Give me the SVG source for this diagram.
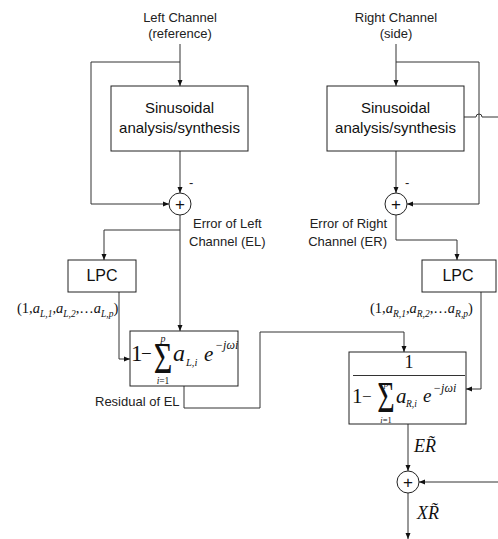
<svg xmlns="http://www.w3.org/2000/svg" width="498" height="539" viewBox="0 0 498 539">
<style>
.box{fill:#fff;stroke:#222;stroke-width:1}
.ln{fill:none;stroke:#333;stroke-width:1}
.lbl{font-family:"Liberation Sans",Arial,sans-serif;font-size:13px;fill:#222}
.bt{font-family:"Liberation Sans",Arial,sans-serif;font-size:15px;fill:#111;text-anchor:middle}
.m{font-family:"Liberation Serif","Times New Roman",serif;fill:#111}
.i{font-style:italic}
.c{text-anchor:middle}
</style>
<defs>
<marker id="ah" viewBox="0 0 6 6" refX="6" refY="3" markerWidth="6" markerHeight="6" orient="auto" markerUnits="userSpaceOnUse">
<path d="M0,0.5 L6,3 L0,5.5 z" fill="#111"/>
</marker>
</defs>
<rect width="498" height="539" fill="#fff"/>

<g id="connectors">
<path class="ln" d="M180,44 V86" marker-end="url(#ah)"/>
<path class="ln" d="M180,62 H91 V204 H169" marker-end="url(#ah)"/>
<path class="ln" d="M180,151 V193" marker-end="url(#ah)"/>
<path class="ln" d="M180,215 V331" marker-end="url(#ah)"/>
<path class="ln" d="M180,230 H104 V260" marker-end="url(#ah)"/>
<path class="ln" d="M119,292 V359 H130" marker-end="url(#ah)"/>
<path class="ln" d="M184,386 V408 H260 V332 H404 V352" marker-end="url(#ah)"/>
<path class="ln" d="M396,44 V86" marker-end="url(#ah)"/>
<path class="ln" d="M396,62 H479 V204 H407" marker-end="url(#ah)"/>
<path class="ln" d="M464,117 H476 A3,3 0 0 1 482,117 H498"/>
<path class="ln" d="M396,151 V193" marker-end="url(#ah)"/>
<path class="ln" d="M396,215 V240 H457 V260" marker-end="url(#ah)"/>
<path class="ln" d="M481,292 V389 H466" marker-end="url(#ah)"/>
<path class="ln" d="M408,424 V471" marker-end="url(#ah)"/>
<path class="ln" d="M498,482 H419" marker-end="url(#ah)"/>
<path class="ln" d="M408,493 V539" marker-end="url(#ah)"/>
</g>

<g id="left-input">
<text class="lbl c" x="180" y="22">Left Channel</text>
<text class="lbl c" x="180" y="38">(reference)</text>
</g>
<g id="right-input">
<text class="lbl c" x="396" y="22">Right Channel</text>
<text class="lbl c" x="396" y="38">(side)</text>
</g>

<g id="left-sinusoidal">
<rect class="box" x="111" y="86" width="137" height="65"/>
<text class="bt" x="179.5" y="113">Sinusoidal</text>
<text class="bt" x="179.5" y="133">analysis/synthesis</text>
</g>
<g id="right-sinusoidal">
<rect class="box" x="327" y="86" width="137" height="65"/>
<text class="bt" x="395.5" y="113">Sinusoidal</text>
<text class="bt" x="395.5" y="133">analysis/synthesis</text>
</g>

<g id="left-sum">
<circle class="box" cx="180" cy="204" r="11"/>
<text class="bt" x="180" y="210" style="font-size:17px">+</text>
<text class="lbl" x="189" y="187">-</text>
</g>
<g id="right-sum">
<circle class="box" cx="396" cy="204" r="11"/>
<text class="bt" x="396" y="210" style="font-size:17px">+</text>
<text class="lbl" x="405" y="187">-</text>
</g>

<g id="labels-error">
<text class="lbl" x="193" y="228">Error of Left</text>
<text class="lbl" x="189" y="246">Channel (EL)</text>
<text class="lbl" x="387" y="228" text-anchor="end">Error of Right</text>
<text class="lbl" x="387" y="246" text-anchor="end">Channel (ER)</text>
</g>

<g id="left-lpc">
<rect class="box" x="68" y="260" width="68" height="32"/>
<text class="bt" x="102" y="281" style="font-size:16px">LPC</text>
</g>
<g id="right-lpc">
<rect class="box" x="422" y="260" width="74" height="32"/>
<text class="bt" x="458" y="281" style="font-size:16px">LPC</text>
</g>

<g id="left-coeffs">
<text class="m" x="17" y="313" style="font-size:14.5px">(1,<tspan class="i">a</tspan><tspan dy="4" style="font-size:9.5px" class="i">L,1</tspan><tspan dy="-4">,</tspan><tspan class="i">a</tspan><tspan dy="4" style="font-size:9.5px" class="i">L,2</tspan><tspan dy="-4">,…</tspan><tspan class="i">a</tspan><tspan dy="4" style="font-size:9.5px" class="i">L,p</tspan><tspan dy="-4">)</tspan></text>
</g>
<g id="right-coeffs">
<text class="m" x="370" y="313" style="font-size:14.5px">(1,<tspan class="i">a</tspan><tspan dy="4" style="font-size:9.5px" class="i">R,1</tspan><tspan dy="-4">,</tspan><tspan class="i">a</tspan><tspan dy="4" style="font-size:9.5px" class="i">R,2</tspan><tspan dy="-4">,…</tspan><tspan class="i">a</tspan><tspan dy="4" style="font-size:9.5px" class="i">R,p</tspan><tspan dy="-4">)</tspan></text>
</g>

<g id="left-filter">
<rect class="box" x="130" y="331" width="108" height="55"/>
<text class="m" x="131" y="361" style="font-size:23px">1</text>
<text class="m" x="141" y="360" style="font-size:19px">−</text>
<text class="m c" transform="translate(163,373) scale(1,1.4)" style="font-size:32px">Σ</text>
<text class="m c i" x="163" y="342" style="font-size:10px">p</text>
<text class="m c" x="163" y="384" style="font-size:9.5px"><tspan class="i">i</tspan>=1</text>
<text class="m i" x="173" y="361" style="font-size:24px">a</text>
<text class="m i" x="186" y="366" style="font-size:10.5px">L,i</text>
<text class="m i" x="204" y="361" style="font-size:21px">e</text>
<text class="m i" x="215" y="349" style="font-size:12px">−jωi</text>
</g>

<g id="right-filter">
<rect class="box" x="349" y="352" width="117" height="72"/>
<text class="m c" x="409" y="368" style="font-size:18px">1</text>
<line class="ln" x1="353" y1="375.5" x2="465" y2="375.5"/>
<text class="m" x="352" y="403" style="font-size:21px">1</text>
<text class="m" x="362" y="402" style="font-size:17px">−</text>
<text class="m c" transform="translate(386,412) scale(1,1.45)" style="font-size:30px">Σ</text>
<text class="m c i" x="386" y="387" style="font-size:9px">p</text>
<text class="m c" x="386" y="423" style="font-size:8.5px"><tspan class="i">i</tspan>=1</text>
<text class="m i" x="396" y="403" style="font-size:21px">a</text>
<text class="m i" x="406" y="407" style="font-size:9.5px">R,i</text>
<text class="m i" x="423" y="402" style="font-size:19px">e</text>
<text class="m i" x="433" y="392" style="font-size:12px">−jωi</text>
</g>

<g id="right-output-sum">
<circle class="box" cx="408" cy="482" r="11"/>
<text class="bt" x="408" y="488" style="font-size:17px">+</text>
<text class="m i" x="414" y="452" style="font-size:18px">ER̃</text>
<text class="m i" x="417" y="519" style="font-size:18px">XR̃</text>
</g>

<g id="residual-label">
<text class="lbl" x="95" y="406">Residual of EL</text>
</g>
</svg>
